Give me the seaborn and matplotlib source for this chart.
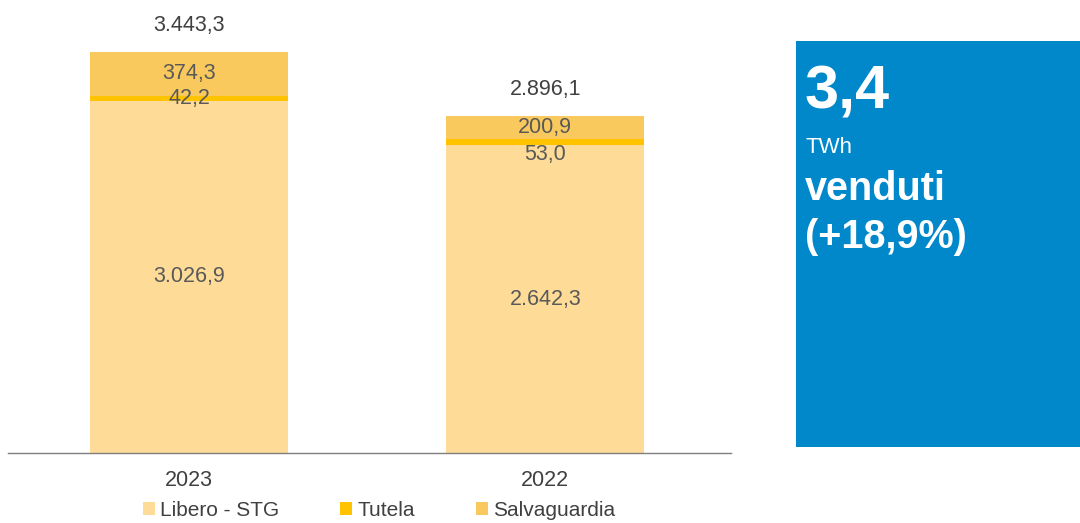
import matplotlib
matplotlib.use("Agg")
import matplotlib.pyplot as plt
from matplotlib.patches import Rectangle, Patch
import numpy as np
import pandas as pd
import seaborn as sns

# Energy sold by market segment (GWh)
years = ["2023", "2022"]
libero_stg = [3026.9, 2642.3]
tutela = [42.2, 53.0]
salvaguardia = [374.3, 200.9]
totals = [3443.3, 2896.1]
series_names = ["Libero - STG", "Tutela", "Salvaguardia"]
colors = ["#FEDC98", "#FFC300", "#F9C95E"]

headline_value = "3,4"
headline_unit = "TWh"
headline_word = "venduti"
headline_change = "(+18,9%)"

sns.set_theme(style="white")
plt.rcParams["font.family"] = ["Liberation Sans", "DejaVu Sans"]


def fmt(v):
    s = f"{v:,.1f}"
    return s.replace(",", "X").replace(".", ",").replace("X", ".")


df = pd.DataFrame({
    "year": years,
    "libero": libero_stg,
    "tutela": tutela,
    "salvaguardia": salvaguardia,
})
df["cum1"] = df["libero"]
df["cum2"] = df["libero"] + df["tutela"]
df["cum3"] = df["cum2"] + df["salvaguardia"]

W, H = 1080, 523
fig = plt.figure(figsize=(W / 100, H / 100), dpi=100)
ax = fig.add_axes([8 / W, (H - 453) / H, (731 - 8) / W, 453 / H])

bw = 0.556
# Stack by overdrawing cumulative heights, topmost layer first
for col, c in [("cum3", colors[2]), ("cum2", colors[1]), ("cum1", colors[0])]:
    sns.barplot(data=df, x="year", y=col, order=years, color=c, width=bw,
                saturation=1, edgecolor="none", linewidth=0, ax=ax)

label_color = "#595959"
fs = 15.5
for i in range(len(years)):
    ax.text(i, df["cum1"][i] / 2, fmt(libero_stg[i]), ha="center", va="center",
            fontsize=fs, color=label_color)
    off = 0 if i == 0 else -9
    ax.annotate(fmt(tutela[i]), (i, df["cum1"][i] + tutela[i] / 2),
                xytext=(0, off), textcoords="offset points",
                ha="center", va="center", fontsize=fs, color=label_color)
    ax.text(i, df["cum2"][i] + salvaguardia[i] / 2, fmt(salvaguardia[i]),
            ha="center", va="center", fontsize=fs, color=label_color)
    ax.annotate(fmt(totals[i]), (i, totals[i]), xytext=(0, 19),
                textcoords="offset points", ha="center", va="center",
                fontsize=fs, color="#404040")

ax.set_xlim(-0.508, 1.521)
ax.set_ylim(0, 3890)
ax.set_xlabel("")
ax.set_ylabel("")
ax.set_yticks([])
sns.despine(ax=ax, left=True, top=True, right=True)
ax.spines["bottom"].set_color("#7F7F7F")
ax.spines["bottom"].set_linewidth(1.0)
ax.tick_params(axis="x", length=0, pad=12, labelsize=15.5, labelcolor="#404040")

handles = [Patch(facecolor=c, edgecolor="none") for c in colors]
fig.legend(handles, series_names, loc="center", bbox_to_anchor=(0.351, 0.024),
           ncol=3, frameon=False, fontsize=15, handlelength=0.6,
           handleheight=0.6, handletextpad=0.25, columnspacing=2.9,
           labelcolor="#404040", borderpad=0)

# Highlight box
fig.patches.append(Rectangle((796 / W, (H - 447) / H), (W - 796) / W, 406 / H,
                             transform=fig.transFigure, facecolor="#0088CB",
                             edgecolor="none", zorder=0))
x0 = 805 / W
fig.text(x0, (H - 108) / H, headline_value, color="white", fontsize=44,
         fontweight="bold", va="baseline", ha="left")
fig.text(x0, (H - 153) / H, headline_unit, color="white", fontsize=16,
         va="baseline", ha="left")
fig.text(x0, (H - 200) / H, headline_word, color="white", fontsize=28.5,
         fontweight="bold", va="baseline", ha="left")
fig.text(x0, (H - 248) / H, headline_change, color="white", fontsize=28.5,
         fontweight="bold", va="baseline", ha="left")

fig.savefig("out.png", dpi=100)
